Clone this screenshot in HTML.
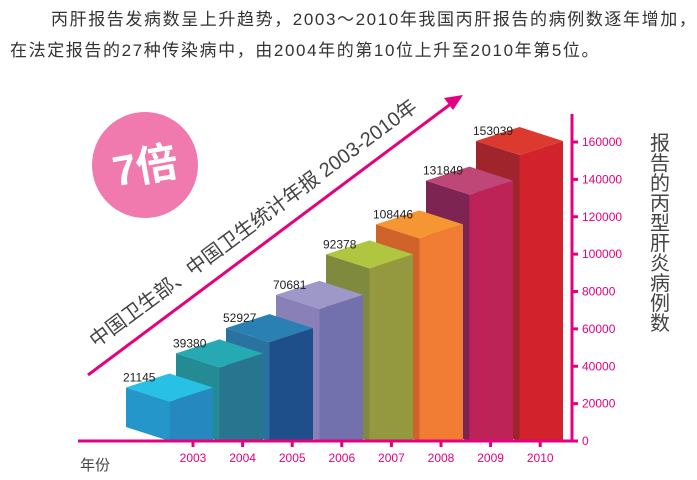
<!DOCTYPE html>
<html><head><meta charset="utf-8">
<style>
body{margin:0;background:#fff;width:697px;height:480px;overflow:hidden;font-family:"Liberation Sans","Noto Sans CJK SC",sans-serif;}
.p{position:absolute;font-size:17px;letter-spacing:1.6px;color:#333;white-space:nowrap;}
</style></head><body>
<div class="p" style="left:51px;top:5px;">丙肝报告发病数呈上升趋势，2003～2010年我国丙肝报告的病例数逐年增加，</div>
<div class="p" style="left:10px;top:36px;">在法定报告的27种传染病中，由2004年的第10位上升至2010年第5位。</div>
<svg id="c" width="697" height="480" style="position:absolute;left:0;top:0"></svg>
<script>
const years=["2003","2004","2005","2006","2007","2008","2009","2010"];
const cases=[21145,39380,52927,70681,92378,108446,131849,153039];
const yTicks=[0,20000,40000,60000,80000,100000,120000,140000,160000];
const leftCols=["#2596c9","#248a94","#2a72a0","#8a80b8","#7f8a3f","#d0632a","#7d2452","#a0242b"];
const rightCols=["#2589bf","#287590","#1f4f8a","#7270ad","#94993f","#f07d33","#be2358","#d2222b"];
const topCols=["#29c0e6","#25aab3","#2a80b2","#9e98c8","#b0c640","#f59633","#bf4778","#dc3a2e"];
const NS="http://www.w3.org/2000/svg";
const svg=document.getElementById('c');
const base=441;
function yS(v){return base-v*299/160000;}
function xBar(i){return 126+i*50;}
function xTick(i){return 193+i*49.6;}
function mk(t,a,p){const e=document.createElementNS(NS,t);for(const k in a)e.setAttribute(k,a[k]);(p||svg).appendChild(e);return e;}
const circ=mk('circle',{cx:145,cy:165,r:53,fill:"#f07aad"});


const bt=mk('text',{x:145,y:181,'text-anchor':'middle','font-size':42,'font-weight':'bold',fill:'#fff',transform:'rotate(-10 145 165)','font-family':'"Liberation Sans","Noto Sans CJK SC",sans-serif'});
bt.textContent="7倍";


const al=mk('line',{x1:88,y1:375,x2:452,y2:103,stroke:'#e5007f','stroke-width':3});


const ah=mk('polygon',{points:"463,95 444,98 453,110",fill:'#e5007f'});


const st=mk('text',{x:0,y:0,'font-size':20,fill:'#444',transform:'translate(96,348) rotate(-36.5)','font-family':'"Liberation Sans","Noto Sans CJK SC",sans-serif'});
st.textContent="中国卫生部、中国卫生统计年报  2003-2010年";


for(let i=years.length-1;i>=0;i--){
  const x0=xBar(i), r=yS(cases[i]), w=43.5, d=14;
  const g=mk('g',{});
  
  
  mk('polygon',{points:`${x0},${r-d} ${x0+w},${r} ${x0+w},${base} ${x0},${base-d}`,fill:leftCols[i]},g);
  mk('polygon',{points:`${x0+w},${r} ${x0+2*w},${r-d} ${x0+2*w},${base} ${x0+w},${base}`,fill:rightCols[i]},g);
  mk('polygon',{points:`${x0},${r-d} ${x0+w},${r-2*d} ${x0+2*w},${r-d} ${x0+w},${r}`,fill:topCols[i]},g);
}
for(let i=0;i<years.length;i++){
  const x0=xBar(i), r=yS(cases[i]);
  const t=mk('text',{x:x0-3,y:r-20,'font-size':12,fill:'#222'});
  t.textContent=cases[i];
  
  
}
const xa=mk('line',{x1:78,y1:base,x2:574,y2:base,stroke:'#e5007f','stroke-width':3});


const ya=mk('line',{x1:572,y1:114,x2:572,y2:442,stroke:'#e5007f','stroke-width':3});


years.forEach((y,i)=>{
  const x=xTick(i);
  mk('line',{x1:x,y1:base,x2:x,y2:base+6,stroke:'#e5007f','stroke-width':3});
  const t=mk('text',{x:x,y:462,'text-anchor':'middle','font-size':12,fill:'#e5007f'});
  t.textContent=y;
  
  
});
yTicks.forEach(v=>{
  const y=yS(v);
  mk('line',{x1:572,y1:y,x2:578,y2:y,stroke:'#e5007f','stroke-width':3});
  const t=mk('text',{x:582,y:y+4,'font-size':12,fill:'#e5007f'});
  t.textContent=v;
  
  
});
const xt=mk('text',{x:80,y:470,'font-size':15,fill:'#444','font-family':'"Liberation Sans","Noto Sans CJK SC",sans-serif'});
xt.textContent="年份";


const title="报告的丙型肝炎病例数";
const yt=mk('text',{x:660,y:150,'font-size':20,fill:'#444','text-anchor':'middle','font-family':'"Liberation Sans","Noto Sans CJK SC",sans-serif'});


[...title].forEach((ch,i)=>{const s=mk('tspan',{x:660,y:150+i*20},yt);s.textContent=ch;});
</script>
</body></html>
